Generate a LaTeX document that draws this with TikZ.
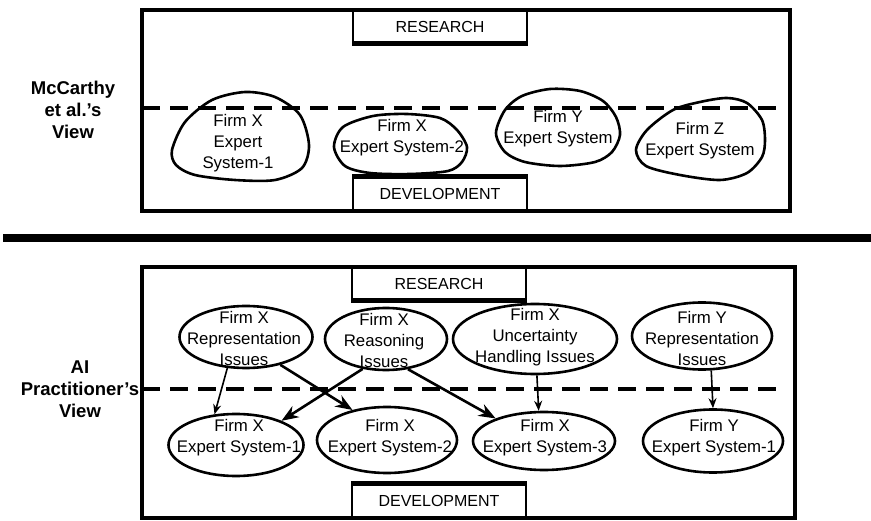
\documentclass[tikz,border=0pt]{standalone}
\usepackage{fontspec}
\setmainfont{Liberation Sans}
\usetikzlibrary{shapes.geometric,arrows.meta}
\begin{document}
\begin{tikzpicture}[x=1pt,y=-1pt]
      \tikzstyle{frame}=[draw,line width=4.5pt]
      \tikzstyle{divide}=[draw,line width=3.5pt,dash pattern=on 18pt off 10pt]
      \tikzstyle{stage}=[draw,line width=1.8pt,minimum width=174pt,minimum height=33pt,inner sep=0pt,font=\fontsize{16}{19}\selectfont]
      \tikzstyle{oval}=[draw,ellipse,line width=2.6pt,inner sep=0pt]
      \tikzstyle{blob}=[draw,line width=2.6pt]
      \tikzstyle{txt}=[align=center,inner sep=0pt,font=\fontsize{16.8}{21}\selectfont]
      \tikzstyle{view}=[align=center,inner sep=0pt,font=\bfseries\fontsize{18.5}{22}\selectfont]
      \tikzstyle{link}=[draw,line width=2.6pt,-{Stealth[length=17pt,width=13pt]}]
      \tikzstyle{thinlink}=[draw,line width=1.6pt,-{Stealth[length=10pt,width=8pt]}]
      \useasboundingbox (0,0) rectangle (871,521);
      \fill[white] (0,0) rectangle (871,521);
      \path[frame] (142,10) rectangle (790,211);
      \path[frame] (142,267) rectangle (795,518);
      \path[draw,line width=8pt] (3,238) -- (871,238);
      \path[divide] (142,108) -- (776,108);
      \path[divide] (142,389) -- (778,389);
      \node[view] (mccarthy) at (73,110) {McCarthy\\et al.'s\\View};
      \node[view] (practitioner) at (80,389) {AI\\Practitioner's\\View};
      \node[stage] (resT) at (440,26.5) {RESEARCH};
      \node[stage] (devT) at (440,194) {DEVELOPMENT};
      \node[stage] (resB) at (439,283.5) {RESEARCH};
      \node[stage] (devB) at (439,500.5) {DEVELOPMENT};
      \path[draw,line width=5pt] (resT.south west) -- (resT.south east);
      \path[draw,line width=5pt] (devT.north west) -- (devT.north east);
      \path[draw,line width=5pt] (resB.south west) -- (resB.south east);
      \path[draw,line width=5pt] (devB.north west) -- (devB.north east);
      \node[txt] (sys1) at (238,143) {Firm X\\Expert\\System-1};
      \node[txt] (sys2) at (402,138) {Firm X\\Expert System-2};
      \node[txt] (sys3) at (558,129) {Firm Y\\Expert System};
      \node[txt] (sys4) at (700,141) {Firm Z\\Expert System};
      \path[blob] plot[smooth cycle] coordinates {(172,150) (185,122) (212,100) (245,92) (275,97) (300,115) (309,145) (302,168) (275,180) (235,180) (195,175) (176,165)};
      \path[blob] plot[smooth cycle] coordinates {(334,147) (343,127) (373,116) (407,114) (440,118) (457,130) (467,147) (462,162) (448,171) (410,174) (370,173) (345,166)};
      \path[blob] plot[smooth cycle] coordinates {(496,133) (505,110) (522,96) (550,89) (580,91) (603,101) (616,117) (620,135) (612,152) (595,162) (560,166) (525,162) (505,152)};
      \path[blob] plot[smooth cycle] coordinates {(636,150) (647,130) (673,110) (700,102) (727,98) (747,103) (762,120) (765,140) (762,157) (747,173) (720,180) (680,175) (646,166)};
      \node[oval,minimum width=133pt,minimum height=62pt] (repX) at (246,337) {};
      \node[oval,minimum width=122pt,minimum height=62pt] (reaX) at (386,339) {};
      \node[oval,minimum width=164pt,minimum height=70pt] (uncX) at (535,339) {};
      \node[oval,minimum width=140pt,minimum height=67pt] (repY) at (702,336) {};
      \node[oval,minimum width=135pt,minimum height=62pt] (es1X) at (236,445) {};
      \node[oval,minimum width=140pt,minimum height=66pt] (es2X) at (387,440) {};
      \node[oval,minimum width=142pt,minimum height=58pt] (es3X) at (544,441) {};
      \node[oval,minimum width=140pt,minimum height=63pt] (es1Y) at (713,441) {};
      \node[txt] (repXtxt) at (244,338) {Firm X\\Representation\\Issues};
      \node[txt] (reaXtxt) at (384,340) {Firm X\\Reasoning\\Issues};
      \node[txt] (uncXtxt) at (535,337) {Firm X\\Uncertainty\\Handling Issues};
      \node[txt] (repYtxt) at (702,338) {Firm Y\\Representation\\Issues};
      \node[txt] (es1Xtxt) at (239,438) {Firm X\\Expert System-1};
      \node[txt] (es2Xtxt) at (390,438) {Firm X\\Expert System-2};
      \node[txt] (es3Xtxt) at (545,438) {Firm X\\Expert System-3};
      \node[txt] (es1Ytxt) at (714,438) {Firm Y\\Expert System-1};
      \path[thinlink] (repX.-121) -- (es1X.125);
      \path[link] (repX.-39) -- (es2X.139);
      \path[link] (reaX.-128) -- (es1X.28);
      \path[link] (reaX.-54) -- (es3X.155);
      \path[thinlink] (uncX.-87) -- (es3X.100);
      \path[thinlink] (repY.-75) -- (es1Y.north);
    \end{tikzpicture}
\end{document}
